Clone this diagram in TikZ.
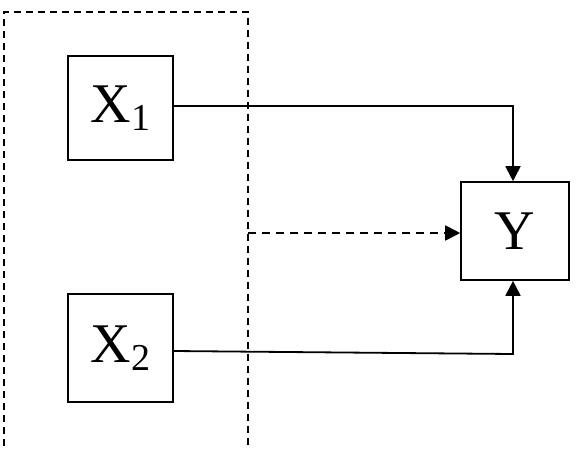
\documentclass[tikz,border=0pt]{standalone}
\usepackage{fontspec}
\setmainfont{Liberation Serif}
\usetikzlibrary{arrows.meta}
\tikzset{
  box/.style={draw, line width=1.6pt, inner sep=0pt, font=\fontsize{56}{60}\selectfont},
  conn/.style={line width=1.8pt, -{Triangle[length=15pt,width=15pt]}},
  dashconn/.style={line width=1.8pt, dash pattern=on 8pt off 6pt, -{Triangle[length=15pt,width=15pt]}},
  frame/.style={line width=1.5pt, dash pattern=on 7pt off 5pt}
}
\newcommand{\subidx}[1]{\raisebox{-8pt}{\fontsize{38}{40}\selectfont #1}}
\begin{document}
\begin{tikzpicture}[x=1pt,y=1pt]
\useasboundingbox (0,0) rectangle (578,-448);
\draw[frame] (4,-470) -- (4,-12) -- (248,-12) -- (248,-470);
\node[box, minimum width=105pt, minimum height=104pt] (X1) at (120.5,-108) {X\subidx{1}};
\node[box, minimum width=105pt, minimum height=108pt] (X2) at (120.5,-348) {X\subidx{2}};
\node[box, minimum width=108pt, minimum height=98pt] (Y) at (515,-231) {Y};
\coordinate (c1) at (513,-106);
\coordinate (c2) at (513,-354);
\coordinate (d0) at (248,-233);
\draw[conn] (X1.east |- c1) -- (c1) -- (c1 |- Y.north);
\draw[conn] (X2.east |- 0,-351) -- (c2) -- (c2 |- Y.south);
\draw[dashconn] (d0) -- (Y.west |- d0);
\end{tikzpicture}
\end{document}
